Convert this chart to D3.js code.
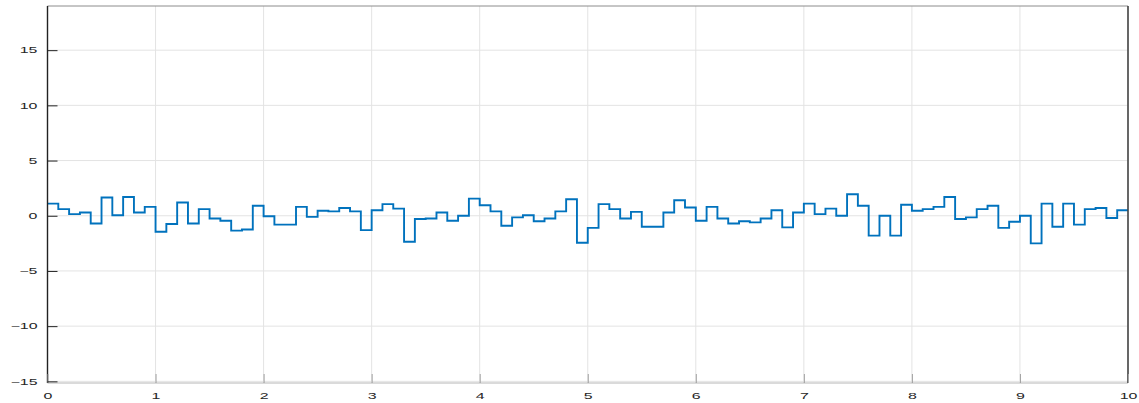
<!DOCTYPE html>
<html>
<head>
<meta charset="utf-8">
<script src="https://cdn.jsdelivr.net/npm/d3@7"></script>
<style>
body { margin: 0; background: #fff; }
</style>
</head>
<body>
<div id="main"></div>
<script>
// data: sample-and-hold signal, one value every 0.1 s
var step = 0.1;
var values = [
  1.1, 0.6, 0.15, 0.3, -0.7, 1.65, 0.05, 1.7, 0.3, 0.8,
  -1.45, -0.75, 1.2, -0.7, 0.6, -0.25, -0.45, -1.35, -1.25, 0.9,
  -0.05, -0.8, -0.8, 0.8, -0.1, 0.45, 0.4, 0.7, 0.4, -1.3,
  0.5, 1.05, 0.65, -2.35, -0.3, -0.25, 0.3, -0.45, 0.0, 1.55,
  0.95, 0.4, -0.9, -0.15, 0.05, -0.5, -0.25, 0.4, 1.5, -2.45,
  -1.1, 1.05, 0.6, -0.25, 0.35, -1.0, -1.0, 0.3, 1.4, 0.75,
  -0.45, 0.8, -0.25, -0.7, -0.5, -0.6, -0.25, 0.5, -1.05, 0.3,
  1.1, 0.15, 0.65, 0.0, 1.95, 0.9, -1.8, 0.0, -1.8, 1.0,
  0.45, 0.6, 0.8, 1.7, -0.3, -0.15, 0.6, 0.9, -1.1, -0.55,
  0.0, -2.5, 1.1, -1.0, 1.1, -0.8, 0.6, 0.7, -0.2, 0.5
];
var xTicks = [0, 1, 2, 3, 4, 5, 6, 7, 8, 9, 10];
var yTicks = [-15, -10, -5, 0, 5, 10, 15];

var width = 1139, height = 403;
var pLeft = 47.5, pRight = 1128, pTop = 6, pBottom = 383;

var x = d3.scaleLinear().domain([0, 10]).range([pLeft, pRight]);
var y = d3.scaleLinear().domain([-15.15, 19]).range([pBottom, pTop]);

var svg = d3.select("#main").append("svg")
    .attr("width", width)
    .attr("height", height);

// grid
svg.append("g").selectAll("line").data(xTicks).enter().append("line")
    .attr("x1", d => x(d)).attr("x2", d => x(d))
    .attr("y1", pTop).attr("y2", pBottom)
    .attr("stroke", "#e3e3e3").attr("stroke-width", 1);
svg.append("g").selectAll("line").data(yTicks).enter().append("line")
    .attr("x1", pLeft).attr("x2", pRight)
    .attr("y1", d => y(d)).attr("y2", d => y(d))
    .attr("stroke", "#e3e3e3").attr("stroke-width", 1);

// step line
var pts = values.map((v, i) => [i * step, v]);
pts.push([10, values[values.length - 1]]);
var line = d3.line()
    .x(d => x(d[0]))
    .y(d => y(d[1]))
    .curve(d3.curveStepAfter);
svg.append("path")
    .datum(pts)
    .attr("d", line)
    .attr("fill", "none")
    .attr("stroke", "#0072BD")
    .attr("stroke-width", 1.9);

// box
svg.append("line").attr("x1", pLeft).attr("x2", pRight).attr("y1", pTop).attr("y2", pTop)
    .attr("stroke", "#8c8c8c").attr("stroke-width", 1);
svg.append("line").attr("x1", pLeft).attr("x2", pRight).attr("y1", pBottom).attr("y2", pBottom)
    .attr("stroke", "#b5b5b5").attr("stroke-width", 1);
svg.append("line").attr("x1", pLeft).attr("x2", pLeft).attr("y1", pTop).attr("y2", pBottom)
    .attr("stroke", "#222").attr("stroke-width", 1.4);
svg.append("line").attr("x1", pRight).attr("x2", pRight).attr("y1", pTop).attr("y2", pBottom)
    .attr("stroke", "#444").attr("stroke-width", 1.6);

// axes (ticks inside, MATLAB style); labels are drawn wide and short like the reference
var minus = d => d < 0 ? "\u2212" + Math.abs(d) : String(d);
var xAxis = d3.axisBottom(x).tickValues(xTicks).tickSize(-9).tickFormat(d3.format("d"));
var yAxis = d3.axisLeft(y).tickValues(yTicks).tickSize(-10).tickFormat(minus);

var gx = svg.append("g").attr("transform", "translate(0," + pBottom + ")").call(xAxis);
var gy = svg.append("g").attr("transform", "translate(" + pLeft + ",0)").call(yAxis);
gx.selectAll(".tick line").attr("stroke", "#a0a0a0");
gy.selectAll(".tick line").attr("stroke", "#222");
gx.selectAll("text")
    .attr("x", 0).attr("y", 0).attr("dy", "0.71em")
    .attr("transform", "translate(0,10) scale(1.45,0.8)");
gy.selectAll("text")
    .attr("x", 0).attr("y", 0).attr("dy", "0.32em")
    .attr("transform", "translate(-10,0) scale(1.45,0.8)");
[gx, gy].forEach(g => {
  g.select(".domain").remove();
  g.selectAll("text")
    .attr("fill", "#262626")
    .attr("font-family", "Liberation Sans, Arial, sans-serif")
    .attr("font-size", "11px");
});
</script>
</body>
</html>
